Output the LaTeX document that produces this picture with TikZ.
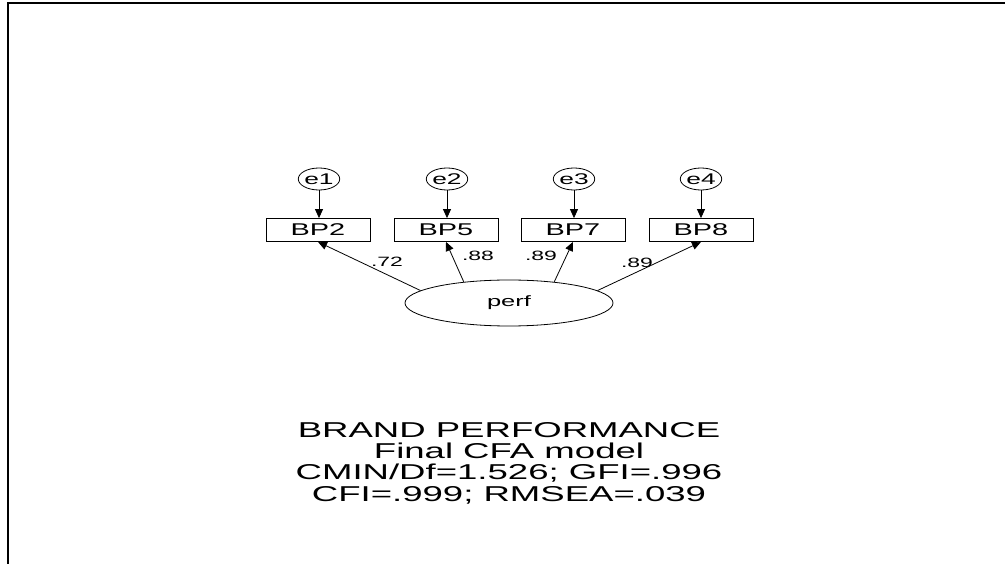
\documentclass[tikz,border=0pt]{standalone}
\usepackage{fontspec}
\usepackage{tikz}
\usetikzlibrary{arrows.meta,shapes.geometric}
\newfontfamily\amosfont[FakeStretch=1.7]{Liberation Sans}
\tikzset{
  >={Triangle[length=9pt,width=8pt]},
  path/.style={->,line width=0.8pt,draw=black},
  errnode/.style={draw,ellipse,line width=0.8pt,minimum width=40pt,
    minimum height=22pt,inner sep=0pt,font=\amosfont\fontsize{15.5}{15.5}\selectfont},
  obsbox/.style={draw,rectangle,line width=0.8pt,minimum width=104pt,
    minimum height=23pt,inner sep=0pt,font=\amosfont\fontsize{17}{17}\selectfont},
  latent/.style={draw,ellipse,line width=0.8pt,minimum width=208pt,
    minimum height=46pt,inner sep=0pt,font=\amosfont\fontsize{15}{15}\selectfont},
  weight/.style={inner sep=0pt,font=\amosfont\fontsize{13.5}{13.5}\selectfont},
  caption/.style={align=center,inner sep=0pt,
    font=\amosfont\fontsize{21.5}{21.3}\selectfont}
}

\begin{document}
\begin{tikzpicture}[x=1pt,y=-1pt]
        \useasboundingbox (0,0) rectangle (1005,564);
        \draw[line width=2pt] (8,564) -- (8,3) -- (1005,3);
        % indicators
        \node[obsbox] (bp2) at (318,230) {BP2};
        \node[obsbox] (bp5) at (446,230) {BP5};
        \node[obsbox] (bp7) at (573,230) {BP7};
        \node[obsbox] (bp8) at (701,230) {BP8};
        % error terms
        \node[errnode] (e1) at (319,179) {e1};
        \node[errnode] (e2) at (447,179) {e2};
        \node[errnode] (e3) at (574,179) {e3};
        \node[errnode] (e4) at (701,179) {e4};
        % factor
        \node[latent] (perf) at (509,303) {perf};
        \draw[path] (e1) -- (e1 |- bp2.north);
        \draw[path] (e2) -- (e2 |- bp5.north);
        \draw[path] (e3) -- (e3 |- bp7.north);
        \draw[path] (e4) -- (e4 |- bp8.north);
        \draw[path] (perf.172) -- (bp2.south);
        \draw[path] (perf.155) -- (bp5.south);
        \draw[path] (perf.25) -- (bp7.south);
        \draw[path] (perf.8) -- (bp8.south);
        \node[weight] (w2) at (387,262) {.72};
        \node[weight] (w5) at (478,256) {.88};
        \node[weight] (w7) at (541,256) {.89};
        \node[weight] (w8) at (637,263) {.89};
        \node[caption] (fit) at (509,463) {BRAND PERFORMANCE\\Final CFA model\\CMIN/Df=1.526; GFI=.996\\CFI=.999; RMSEA=.039};
      \end{tikzpicture}
\end{document}
